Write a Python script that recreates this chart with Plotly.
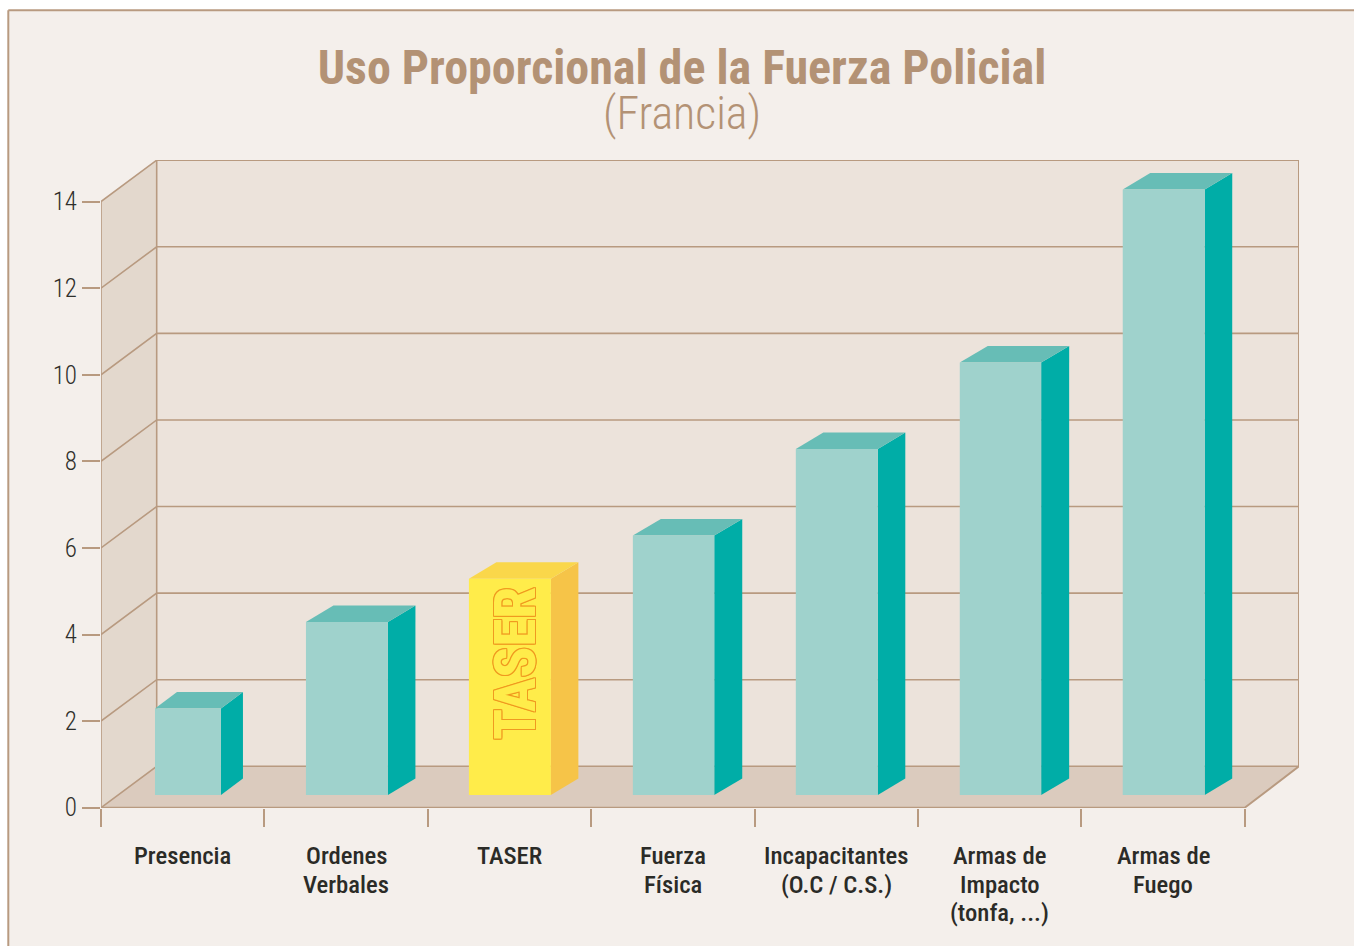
import plotly.graph_objects as go

# ---- data ----
categories = ["Presencia", "Ordenes<br>Verbales", "TASER", "Fuerza<br>Física",
              "Incapacitantes<br>(O.C / C.S.)", "Armas de<br>Impacto<br>(tonfa, ...)", "Armas de<br>Fuego"]
values = [2, 4, 5, 6, 8, 10, 14]
y_ticks = [0, 2, 4, 6, 8, 10, 12, 14]
highlight = "TASER"

# ---- geometry of the plot, in pixels of the page ----
W, H = 1354, 946
L, R, T, B = 101, 1299, 160, 808
Y0_PX = 807.7
CAT_PX = (1245 - 101) / 7
UNIT_PX = (807.7 - 201.6) / 14
WALL_XL = 55.7 / CAT_PX      # depth of the left wall in axis units
WALL_XR = 54.3 / CAT_PX      # depth of the floor at the right end
WALL_Y = 41.4 / UNIT_PX
BAR_BASE = 12.7 / UNIT_PX    # bars stand a little forward on the floor
BAR_SCALE = 43.25 / UNIT_PX
BAR_LEFT = [(155 - L) / CAT_PX, (306 - L) / CAT_PX, (469 - L) / CAT_PX, (633 - L) / CAT_PX,
            (796 - L) / CAT_PX, (960 - L) / CAT_PX, (1123 - L) / CAT_PX]
BAR_W = [w / CAT_PX for w in (66, 82, 82, 81.4, 82, 81.4, 82)]
BAR_DX = [d / CAT_PX for d in (22, 27.5, 27.5, 28, 27.5, 28, 27.5)]
BAR_DY = 16.5 / UNIT_PX
LABEL_ROWS_PX = [856, 884, 912]
n = len(categories)
top_v = max(y_ticks)

TAN = "#B89A80"
PANEL = "#F4EFEB"
TITLE = "#B39275"
FONT = "Roboto Condensed"
fig = go.Figure()


def poly(xs, ys, fill):
    fig.add_trace(go.Scatter(x=xs, y=ys, mode="lines", fill="toself", fillcolor=fill,
                             line=dict(width=0), hoverinfo="skip", showlegend=False, cliponaxis=False))


def seg(xs, ys, width=1.6):
    fig.add_trace(go.Scatter(x=xs, y=ys, mode="lines", line=dict(color=TAN, width=width),
                             hoverinfo="skip", showlegend=False, cliponaxis=False))


# walls and floor
poly([WALL_XL, n + WALL_XR, n + WALL_XR, WALL_XL, WALL_XL],
     [WALL_Y, WALL_Y, top_v + WALL_Y, top_v + WALL_Y, WALL_Y], "#ECE3DB")
poly([0, WALL_XL, WALL_XL, 0, 0], [0, WALL_Y, top_v + WALL_Y, top_v, 0], "#E3D8CD")
poly([0, n, n + WALL_XR, WALL_XL, 0], [0, 0, WALL_Y, WALL_Y, 0], "#DBCBBE")

# grid lines
for v in y_ticks:
    seg([0, WALL_XL, n + WALL_XR], [v, v + WALL_Y, v + WALL_Y])
seg([0, 0], [0, top_v])
seg([WALL_XL, WALL_XL], [WALL_Y, top_v + WALL_Y])
seg([n + WALL_XR, n + WALL_XR], [WALL_Y, top_v + WALL_Y], 2)
seg([0, n, n + WALL_XR], [0, 0, WALL_Y], 2)

# bars
for i, (c, v) in enumerate(zip(categories, values)):
    x0, x1 = BAR_LEFT[i], BAR_LEFT[i] + BAR_W[i]
    x2 = x1 + BAR_DX[i]
    y0, y1 = BAR_BASE, BAR_BASE + v * BAR_SCALE
    hot = c == highlight
    front, top, side = ("#FFEC4A", "#FAD74A", "#F6C448") if hot else ("#9FD2CC", "#67BDB6", "#00ADA7")
    poly([x1, x2, x2, x1, x1], [y0, y0 + BAR_DY, y1 + BAR_DY, y1, y0], side)
    poly([x0, x0 + BAR_DX[i], x2, x1, x0], [y1, y1 + BAR_DY, y1 + BAR_DY, y1, y1], top)
    poly([x0, x1, x1, x0, x0], [y0, y0, y1, y1, y0], front)
    if hot:
        stroke = "#F09A20"
        fig.add_annotation(x=(x0 + x1) / 2 + 5 / CAT_PX, y=y0 + 132 / UNIT_PX, xref="x", yref="y",
                           text=highlight, textangle=-90, showarrow=False,
                           font=dict(family=FONT, size=57, color="#FFEC4A", weight=800,
                                     shadow=f"1px 0 {stroke}, -1px 0 {stroke}, 0 1px {stroke}, 0 -1px {stroke}, "
                                            f"1px 1px {stroke}, -1px -1px {stroke}, 1px -1px {stroke}, -1px 1px {stroke}"))

# page frame: panel is the paper colour, white strips outside the frame line
to_px = lambda x: (x - L) / (R - L)
to_py = lambda y: (B - y) / (B - T)
frame_x, frame_y = 8.3, 10.3
shapes = [
    dict(type="rect", xref="paper", yref="paper", x0=to_px(0), x1=to_px(frame_x), y0=to_py(H), y1=to_py(0),
         fillcolor="white", line_width=0, layer="below"),
    dict(type="rect", xref="paper", yref="paper", x0=to_px(0), x1=to_px(W), y0=to_py(frame_y), y1=to_py(0),
         fillcolor="white", line_width=0, layer="below"),
    dict(type="line", xref="paper", yref="paper", x0=to_px(frame_x), x1=to_px(frame_x), y0=to_py(H), y1=to_py(frame_y),
         line=dict(color=TAN, width=2), layer="below"),
    dict(type="line", xref="paper", yref="paper", x0=to_px(frame_x), x1=to_px(W), y0=to_py(frame_y), y1=to_py(frame_y),
         line=dict(color=TAN, width=2), layer="below"),
]

fig.add_annotation(x=to_px(682), y=to_py(113), xref="paper", yref="paper", yanchor="middle", text="(Francia)",
                   showarrow=False, font=dict(family=FONT, size=46, color=TITLE, weight=300))

# category labels, one text per line so that the line pitch matches the picture
for i, c in enumerate(categories):
    for row, line in enumerate(c.split("<br>")):
        fig.add_annotation(x=i + 0.5, y=to_py(LABEL_ROWS_PX[row]), xref="x", yref="paper", yanchor="middle",
                           text=line, showarrow=False,
                           font=dict(family=FONT, size=24.7, color="#2B2B27", weight=500))

fig.update_layout(
    width=W, height=H, margin=dict(l=L, r=W - R, t=T, b=H - B, pad=0, autoexpand=False),
    paper_bgcolor=PANEL, plot_bgcolor="rgba(0,0,0,0)", shapes=shapes, showlegend=False,
    title=dict(text="<b>Uso Proporcional de la Fuerza Policial</b>", x=682 / W, xanchor="center",
               y=1 - 67 / H, yanchor="middle", automargin=False,
               font=dict(family=FONT, size=48, color=TITLE)),
    xaxis=dict(range=[0, n + WALL_XR], tickmode="array", automargin=False,
               tickvals=list(range(n + 1)), showticklabels=False,
               ticks="outside", ticklen=18, tickcolor=TAN, tickwidth=1.6,
               showgrid=False, zeroline=False, showline=False),
    yaxis=dict(range=[(Y0_PX - B) / UNIT_PX, (Y0_PX - T) / UNIT_PX], tickmode="array", tickvals=y_ticks,
               automargin=False, ticktext=[str(t) for t in y_ticks], ticks="outside", ticklen=18,
               tickcolor=TAN, tickwidth=1.6, showgrid=False, zeroline=False, showline=False, ticklabelstandoff=0,
               tickfont=dict(family=FONT, size=25, color="#2F2F2B", weight=300)),
)

fig.write_html("out.html", config={"displayModeBar": False},
               post_script="document.body.style.margin='0';document.body.style.overflow='hidden';")
